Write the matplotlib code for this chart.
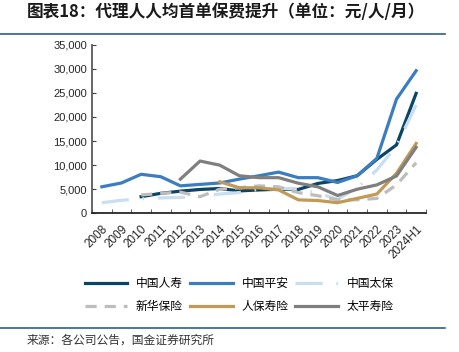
import matplotlib
matplotlib.use('Agg')
import matplotlib.pyplot as plt
import numpy as np
from matplotlib.lines import Line2D

plt.rcParams['font.family'] = ['Liberation Sans', 'Noto Sans CJK SC', 'DejaVu Sans']

years = ['2008', '2009', '2010', '2011', '2012', '2013', '2014', '2015', '2016',
         '2017', '2018', '2019', '2020', '2021', '2022', '2023', '2024H1']
nan = np.nan
china_life = [nan, nan, 3450, 4150, 4600, 4950, 5150, 4650, 4850, 5000, 4950, 6200, 6800, 7800, 11200, 14200, 24900]
ping_an = [5500, 6300, 8100, 7600, 5700, 6000, 6300, 7100, 7800, 8550, 7400, 7400, 6400, 7800, 11400, 23700, 29600]
cpic = [2200, 2700, 3000, 3200, 3300, 3500, 4000, 4300, 5000, 5200, 5000, 4200, 2900, 5300, 9000, 14000, 22500]
new_china = [nan, nan, 3800, 4150, 4400, 3450, 5000, 5300, 5700, 5500, 4300, 3650, 2800, 2800, 3100, 5900, 10500]
picc_life = [nan, nan, nan, nan, nan, nan, 6550, 5300, 5300, 4850, 2800, 2650, 2200, 3100, 4000, 8300, 14500]
taiping = [nan, nan, nan, nan, 7100, 10850, 10000, 7800, 7400, 7400, 6250, 5500, 3700, 5000, 5900, 7750, 13700]

names = ['中国人寿', '中国平安', '中国太保', '新华保险', '人保寿险', '太平寿险']
series = [china_life, ping_an, cpic, new_china, picc_life, taiping]
colors = ['#0B4566', '#3B7DC1', '#C9DEF1', '#BDBDBD', '#C29A57', '#7F7F7F']
styles = ['-', '-', (0, (8.5, 4.3, 0.5, 4.3)), (0, (3.5, 2.5)), '-', '-']

fig = plt.figure(figsize=(4.6, 3.52), dpi=100)
ax = fig.add_axes([0.2, 0.394, 0.726, 0.479])

x = np.arange(len(years))
handles = []
for name, vals, c, ls in zip(names, series, colors, styles):
    h, = ax.plot(x, vals, color=c, lw=2.3, linestyle=ls, label=name)
    handles.append(h)

ax.set_xlim(-0.5, len(years) - 0.5)
ax.set_ylim(0, 35000)
ax.set_yticks(range(0, 35001, 5000))
ax.set_yticklabels(['{:,}'.format(v) for v in range(0, 35001, 5000)])
ax.set_xticks(x)
ax.set_xticklabels(years, rotation=45, ha='right', rotation_mode='anchor')
ax.set_xticks(np.arange(-0.5, len(years)), minor=True)
ax.tick_params(axis='x', which='major', length=0, pad=7, labelsize=8.5, colors='#262626')
ax.tick_params(axis='x', which='minor', length=3, direction='in', color='#404040')
ax.tick_params(axis='y', length=3, direction='in', labelsize=8, colors='#262626', color='#404040')
for s in ['top', 'right']:
    ax.spines[s].set_visible(False)
ax.spines['left'].set_color('#595959')
ax.spines['bottom'].set_color('#262626')
ax.spines['left'].set_linewidth(1.3)
ax.spines['bottom'].set_linewidth(1.3)

# legend is filled column by column, so reorder to get rows like the original
order = [0, 3, 1, 4, 2, 5]
fig.legend(handles=[handles[i] for i in order], loc='center', bbox_to_anchor=(0.52, 0.162), ncol=3,
           frameon=False, handlelength=3.6, handletextpad=0.75,
           columnspacing=0.6, labelspacing=0.8,
           prop={'family': ['Noto Sans CJK SC'], 'size': 8.5})

fig.text(0.058, 0.965, '图表18：代理人人均首单保费提升（单位：元/人/月）',
         fontsize=12, fontweight='bold', color='#1a1a1a', va='center',
         family=['Noto Sans CJK SC'])
fig.add_artist(Line2D([0, 0.967], [1 - 34 / 352, 1 - 34 / 352], color='#2E5F8A', lw=1.2))
fig.add_artist(Line2D([0, 0.967], [1 - 328 / 352, 1 - 328 / 352], color='#2E5F8A', lw=1.2))
fig.text(0.057, 1 - 340 / 352, '来源：各公司公告，国金证券研究所', fontsize=8.5,
         color='#333333', va='center', family=['Noto Sans CJK SC'])

fig.savefig('out.png', dpi=100)
